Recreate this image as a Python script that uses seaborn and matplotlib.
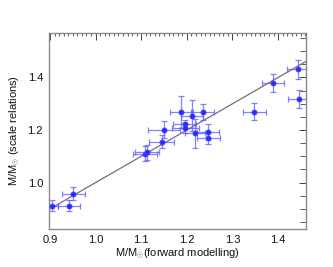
import matplotlib
matplotlib.use("Agg")
import matplotlib.pyplot as plt
import seaborn as sns
import pandas as pd
from matplotlib.ticker import MultipleLocator

# Data
m_forward = [0.905, 0.951, 0.942, 1.108, 1.113, 1.145, 1.150, 1.188, 1.211, 1.235,
             1.195, 1.197, 1.217, 1.247, 1.247, 1.348, 1.389, 1.444, 1.446]
m_scale = [0.912, 0.957, 0.912, 1.110, 1.115, 1.156, 1.202, 1.269, 1.255, 1.269,
           1.223, 1.207, 1.188, 1.194, 1.169, 1.270, 1.379, 1.431, 1.318]
err_forward = [0.013, 0.025, 0.024, 0.027, 0.027, 0.027, 0.036, 0.025, 0.024, 0.025,
               0.025, 0.03, 0.022, 0.024, 0.025, 0.025, 0.024, 0.024, 0.024]
err_scale = [0.02, 0.025, 0.02, 0.028, 0.028, 0.025, 0.033, 0.061, 0.06, 0.03,
             0.015, 0.02, 0.055, 0.03, 0.022, 0.033, 0.035, 0.035, 0.033]
line_x = [0.88, 1.48]
line_y = [0.88, 1.48]

df = pd.DataFrame({"fwd": m_forward, "scl": m_scale})

sns.set_style("white")
plt.rcParams["font.family"] = ["Liberation Sans", "DejaVu Sans"]
plt.rcParams["mathtext.fontset"] = "custom"
plt.rcParams["mathtext.rm"] = "Liberation Sans"

fig = plt.figure(figsize=(3.33, 2.67), dpi=100)
ax = fig.add_axes([0.146, 0.141, 0.774, 0.737])

ax.plot(line_x, line_y, color="#707070", lw=0.9, zorder=1)
ax.errorbar(m_forward, m_scale, xerr=err_forward, yerr=err_scale, fmt="none",
            ecolor="#5a5aff", elinewidth=0.9, capsize=2.5, capthick=0.9,
            alpha=0.75, zorder=2)
sns.scatterplot(data=df, x="fwd", y="scl", ax=ax, color="#2a2aff", s=14,
                edgecolor="#4a4aff", linewidth=0.5, zorder=3)

ax.set_xlim(0.897, 1.462)
ax.set_ylim(0.822, 1.571)
ax.xaxis.set_major_locator(MultipleLocator(0.1))
ax.xaxis.set_minor_locator(MultipleLocator(0.01))
ax.yaxis.set_major_locator(MultipleLocator(0.2))
ax.yaxis.set_minor_locator(MultipleLocator(0.05))
ax.xaxis.set_major_formatter(matplotlib.ticker.FormatStrFormatter("%.1f"))
ax.yaxis.set_major_formatter(matplotlib.ticker.FormatStrFormatter("%.1f"))

ax.tick_params(which="both", direction="in", top=True, right=True,
               color="#404040", labelsize=8, labelcolor="#111111")
ax.tick_params(which="major", length=5, width=0.7, pad=4)
ax.tick_params(which="minor", length=2.5, width=0.6)
ax.tick_params(axis="y", which="minor", length=4)

for s in ax.spines.values():
    s.set_color("#8a8a8a")
    s.set_linewidth(1.0)
    s.set_visible(True)

ax.set_xlabel(r"M/M$_{\odot}$(forward modelling)", fontsize=8, labelpad=1,
              color="#111111")
ax.set_ylabel(r"M/M$_{\odot}$ (scale relations)", fontsize=8, labelpad=4,
              color="#111111")

fig.savefig("out.png", dpi=100)
